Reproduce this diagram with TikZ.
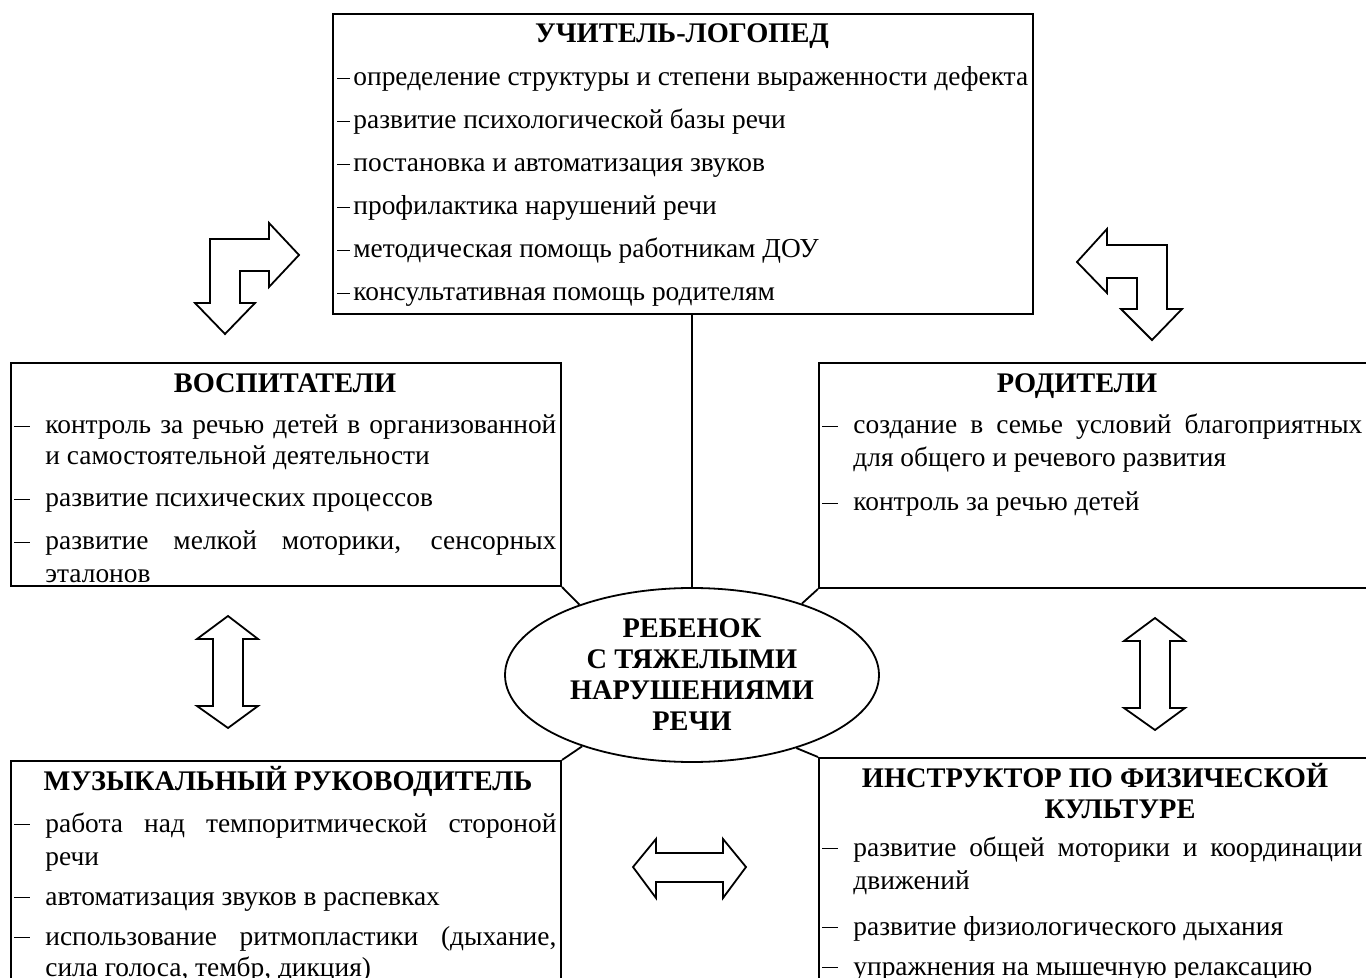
\documentclass[tikz,border=0pt]{standalone}
\usepackage{fontspec}
\setmainfont{Liberation Serif}
\usetikzlibrary{shapes.geometric}

\newcommand{\dsh}[2]{\makebox[#1][l]{\rule[0.26em]{#2}{0.65pt}}}
\newcommand{\fillline}[2]{\makebox[#1][s]{#2}}

\begin{document}
\begin{tikzpicture}[x=0.5pt, y=-0.5pt, line join=miter]
  \tikzset{
    box/.style={draw, line width=1pt, rectangle, anchor=north west, inner sep=0pt},
    ttl/.style={anchor=base, inner sep=0pt, font=\fontsize{14.2}{15.5}\selectfont\bfseries},
    txt/.style={anchor=base west, inner sep=0pt, font=\fontsize{13.7}{15.5}\selectfont},
    blockarrow/.style={draw, line width=0.9pt, fill=white},
    link/.style={draw, line width=0.9pt}
  }
  \clip (0,0) rectangle (1366,978);

  % boxes
  \node[box, minimum width=350pt, minimum height=150pt]   (logoped) at (332,13)  {};
  \node[box, minimum width=275pt, minimum height=111.5pt] (vosp)    at (10,362)  {};
  \node[box, minimum width=280pt, minimum height=112.5pt] (rodit)   at (818,362) {};
  \node[box, minimum width=275pt, minimum height=120pt]   (muz)     at (10,760)  {};
  \node[box, minimum width=280pt, minimum height=120pt]   (fiz)     at (818,757) {};
  \node[draw, ellipse, line width=0.9pt, minimum width=187pt, minimum height=87pt,
        inner sep=0pt, align=center, font=\fontsize{14.2}{15.5}\selectfont\bfseries]
        (child) at (692,675) {РЕБЕНОК\\С ТЯЖЕЛЫМИ\\НАРУШЕНИЯМИ\\РЕЧИ};

  % links to the child
  \path[link] (child.north) -- (child.north |- logoped.south);
  \path[link] (vosp.south east)  -- (child.148);
  \path[link] (muz.north east)   -- (child.213);
  \path[link] (rodit.south west) -- (child.33);
  \path[link] (fiz.north west)   -- (child.325);

  % teacher
  \node[ttl] (lgt) at (682,43) {УЧИТЕЛЬ-ЛОГОПЕД};
  \foreach \t [count=\i from 0] in {определение структуры и степени выраженности дефекта,
      развитие психологической базы речи, постановка и автоматизация звуков,
      профилактика нарушений речи, методическая помощь работникам ДОУ,
      консультативная помощь родителям}
    \node[txt] (lg\i) at (337,{86+43*\i}) {\dsh{8pt}{6.5pt}\t};

  % educators
  \node[ttl] (vst) at (285,393) {ВОСПИТАТЕЛИ};
  \node[txt] (vs1) at (14,434)  {\dsh{15.5pt}{8pt}\fillline{255.5pt}{контроль за речью детей в организованной}};
  \node[txt] (vs1b) at (45,465) {и самостоятельной деятельности};
  \node[txt] (vs2) at (14,507)  {\dsh{15.5pt}{8pt}развитие психических процессов};
  \node[txt] (vs3) at (14,550)  {\dsh{15.5pt}{8pt}\fillline{255.5pt}{развитие мелкой моторики, сенсорных}};
  \node[txt] (vs3b) at (45,582) {эталонов};

  % parents
  \node[ttl] (rdt) at (1077,393) {РОДИТЕЛИ};
  \node[txt] (rd1) at (822,434)  {\dsh{15.5pt}{8pt}\fillline{254.5pt}{создание в семье условий благоприятных}};
  \node[txt] (rd1b) at (853,467) {для общего и речевого развития};
  \node[txt] (rd2) at (822,511)  {\dsh{15.5pt}{8pt}контроль за речью детей};

  % music
  \node[ttl] (mzt) at (288,790) {МУЗЫКАЛЬНЫЙ РУКОВОДИТЕЛЬ};
  \node[txt] (mz1) at (14,832)  {\dsh{15.5pt}{8pt}\fillline{255.5pt}{работа над темпоритмической стороной}};
  \node[txt] (mz1b) at (45,865) {речи};
  \node[txt] (mz2) at (14,905)  {\dsh{15.5pt}{8pt}автоматизация звуков в распевках};
  \node[txt] (mz3) at (14,945)  {\dsh{15.5pt}{8pt}\fillline{255.5pt}{использование ритмопластики (дыхание,}};
  \node[txt] (mz3b) at (45,976) {сила голоса, тембр, дикция)};

  % physical culture
  \node[ttl] (fzt) at (1095,787) {ИНСТРУКТОР ПО ФИЗИЧЕСКОЙ};
  \node[ttl] (fzt2) at (1120,818) {КУЛЬТУРЕ};
  \node[txt] (fz1) at (822,856)  {\dsh{15.5pt}{8pt}\fillline{254.5pt}{развитие общей моторики и координации}};
  \node[txt] (fz1b) at (853,889) {движений};
  \node[txt] (fz2) at (822,935)  {\dsh{15.5pt}{8pt}развитие физиологического дыхания};
  \node[txt] (fz3) at (822,975)  {\dsh{15.5pt}{8pt}упражнения на мышечную релаксацию};

  % block arrows
  \path[blockarrow] (210,303) -- (210,239) -- (269,239) -- (269,223) -- (299,255) -- (269,287)
    -- (269,271) -- (240,271) -- (240,303) -- (255,303) -- (225,334) -- (195,303) -- cycle;
  \path[blockarrow] (1107,245) -- (1167,245) -- (1167,309) -- (1182,309) -- (1152,340) -- (1121,309)
    -- (1137,309) -- (1137,278) -- (1107,278) -- (1107,293) -- (1077,262) -- (1107,229) -- cycle;
  \foreach \dx/\dy in {0/0, 927/2}
    \path[blockarrow, shift={(\dx,\dy)}] (228,616) -- (258,639) -- (243,639) -- (243,706) -- (258,706)
      -- (228,728) -- (197,706) -- (213,706) -- (213,639) -- (197,639) -- cycle;
  \path[blockarrow] (633,867) -- (656,839) -- (656,853) -- (723,853) -- (723,839) -- (746,867)
    -- (723,898) -- (723,882) -- (656,882) -- (656,898) -- cycle;
\end{tikzpicture}
\end{document}
